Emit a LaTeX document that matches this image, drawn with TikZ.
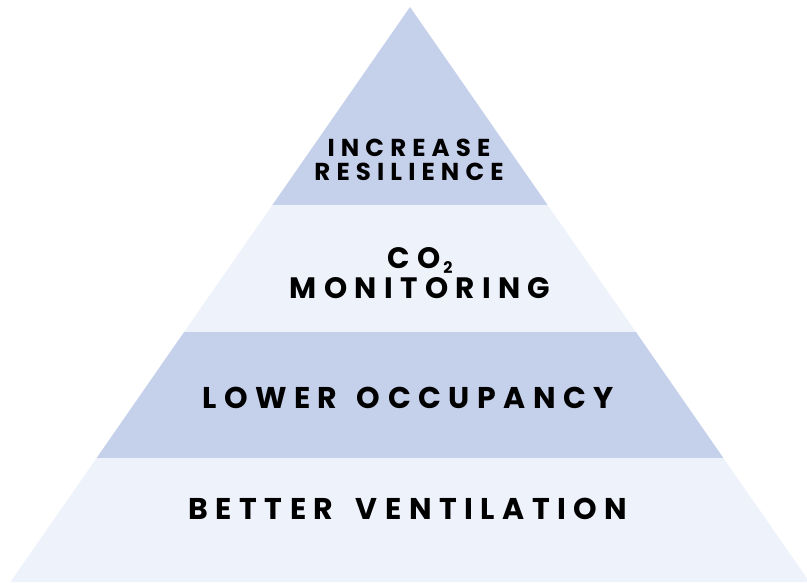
\documentclass[tikz,border=0pt]{standalone}
\usepackage{fontspec}
\newfontfamily\pyr{Poppins}[LetterSpace=25]
\definecolor{tierdark}{HTML}{C5D0EA}
\definecolor{tierlight}{HTML}{EEF2FA}
\begin{document}
\begin{tikzpicture}[x=1pt,y=1pt,
  tierlabel/.style={text=black,align=center,inner sep=0pt}]
\useasboundingbox (0,0) rectangle (807,582);
\clip (0,0) rectangle (807,582);
\fill[tierlight] (10.4,0) -- (809.6,0) -- (723.4,124) -- (96.6,124) -- cycle;
\fill[tierdark] (96.6,124) -- (723.4,124) -- (635.9,250) -- (184.1,250) -- cycle;
\fill[tierlight] (184.1,250) -- (635.9,250) -- (547.6,377) -- (272.4,377) -- cycle;
\fill[tierdark] (272.4,377) -- (547.6,377) -- (410,575) -- cycle;
\node[tierlabel,font=\pyr\bfseries\fontsize{24.5}{24}\selectfont] (t1) at (409,422) {INCREASE\\RESILIENCE};
\node[tierlabel,font=\pyr\bfseries\fontsize{29.5}{30}\selectfont] (t2) at (420,309) {CO\hspace{3pt}\raisebox{-5pt}{\fontsize{16}{16}\selectfont 2}\\MONITORING};
\node[tierlabel,font=\pyr\bfseries\fontsize{30}{30}\selectfont] (t3) at (408,184) {LOWER\hspace{0.65em}OCCUPANCY};
\node[tierlabel,font=\pyr\bfseries\fontsize{30}{30}\selectfont] (t4) at (408,73) {BETTER\hspace{0.75em}VENTILATION};
\end{tikzpicture}
\end{document}
